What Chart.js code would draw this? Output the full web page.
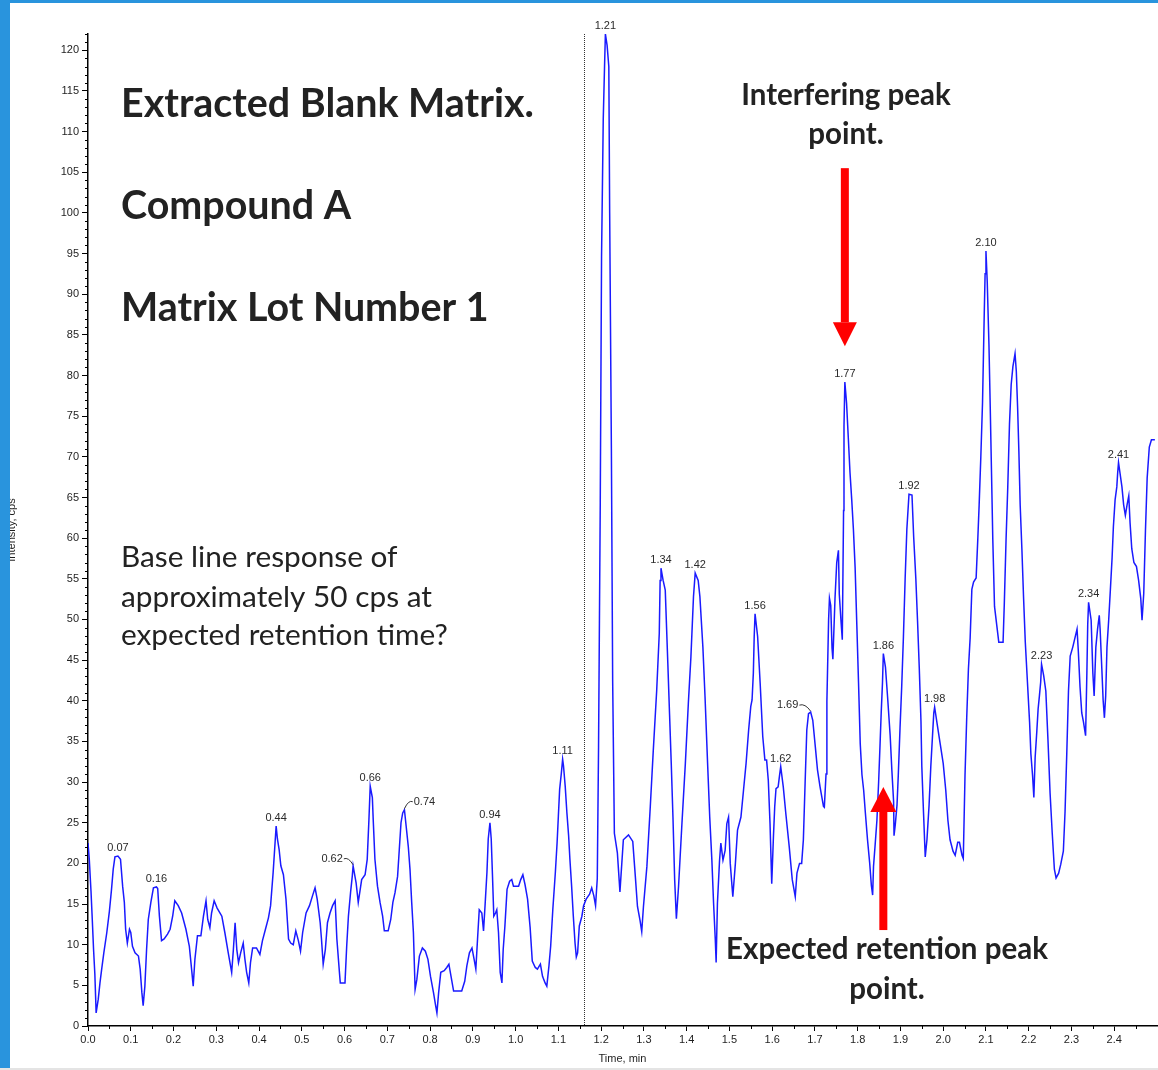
<!DOCTYPE html>
<html>
<head>
<meta charset="utf-8">
<title>Extracted Blank Matrix – Compound A</title>
<script src="https://cdn.jsdelivr.net/npm/chart.js@4.4.1/dist/chart.umd.min.js"></script>
<style>
  html, body { margin: 0; padding: 0; background: #ffffff; }
  canvas { display: block; }
</style>
</head>
<body>
<canvas id="xic" width="1158" height="1070"></canvas>
<script>
// Retention time (min) of each acquired point of the blank-matrix trace.
const retentionTimes = [
  0.000,0.003,0.007,0.010,0.013,0.016,0.018,0.019,0.024,0.028,
  0.032,0.037,0.044,0.050,0.055,0.059,0.063,0.070,0.076,0.081,
  0.085,0.088,0.092,0.097,0.100,0.104,0.110,0.118,0.122,0.126,
  0.129,0.133,0.137,0.141,0.147,0.153,0.160,0.163,0.167,0.172,
  0.178,0.186,0.192,0.198,0.203,0.211,0.219,0.229,0.237,0.243,
  0.246,0.250,0.256,0.264,0.270,0.276,0.280,0.285,0.289,0.295,
  0.302,0.313,0.320,0.328,0.336,0.340,0.344,0.348,0.352,0.357,
  0.363,0.367,0.371,0.376,0.380,0.385,0.394,0.402,0.408,0.415,
  0.422,0.427,0.433,0.440,0.443,0.447,0.451,0.457,0.463,0.469,
  0.474,0.480,0.486,0.492,0.497,0.502,0.510,0.518,0.525,0.531,
  0.536,0.543,0.546,0.550,0.555,0.560,0.566,0.572,0.578,0.582,
  0.588,0.590,0.601,0.605,0.609,0.614,0.618,0.620,0.627,0.632,
  0.636,0.640,0.648,0.653,0.657,0.660,0.665,0.667,0.671,0.677,
  0.683,0.689,0.693,0.702,0.708,0.713,0.718,0.724,0.728,0.732,
  0.736,0.740,0.744,0.749,0.753,0.757,0.761,0.765,0.769,0.775,
  0.782,0.789,0.795,0.801,0.808,0.813,0.816,0.820,0.825,0.833,
  0.839,0.844,0.849,0.855,0.874,0.881,0.886,0.892,0.898,0.903,
  0.907,0.911,0.915,0.921,0.925,0.929,0.933,0.936,0.940,0.943,
  0.946,0.949,0.953,0.956,0.960,0.964,0.968,0.971,0.975,0.980,
  0.986,0.991,0.995,1.007,1.012,1.017,1.022,1.028,1.034,1.039,
  1.046,1.051,1.058,1.063,1.069,1.073,1.078,1.082,1.087,1.093,
  1.097,1.100,1.103,1.107,1.110,1.112,1.116,1.120,1.124,1.127,
  1.131,1.135,1.139,1.142,1.145,1.149,1.155,1.159,1.165,1.173,
  1.178,1.183,1.187,1.191,1.194,1.198,1.201,1.205,1.208,1.210,
  1.214,1.218,1.220,1.224,1.227,1.231,1.238,1.244,1.252,1.264,
  1.274,1.280,1.285,1.291,1.295,1.299,1.307,1.315,1.322,1.330,
  1.336,1.338,1.340,1.345,1.350,1.356,1.360,1.364,1.368,1.372,
  1.376,1.381,1.389,1.397,1.404,1.410,1.416,1.420,1.427,1.431,
  1.438,1.443,1.449,1.454,1.459,1.463,1.467,1.469,1.472,1.477,
  1.480,1.485,1.490,1.494,1.498,1.502,1.508,1.514,1.519,1.527,
  1.533,1.539,1.545,1.550,1.553,1.556,1.558,1.560,1.566,1.572,
  1.578,1.583,1.587,1.591,1.595,1.599,1.603,1.606,1.609,1.614,
  1.617,1.620,1.626,1.632,1.640,1.647,1.654,1.658,1.664,1.669,
  1.673,1.677,1.681,1.685,1.690,1.695,1.701,1.706,1.712,1.716,
  1.720,1.722,1.726,1.728,1.732,1.734,1.737,1.740,1.742,1.747,
  1.751,1.755,1.757,1.761,1.764,1.767,1.768,1.770,1.774,1.778,
  1.782,1.786,1.790,1.794,1.798,1.802,1.806,1.810,1.814,1.818,
  1.823,1.828,1.832,1.835,1.837,1.841,1.845,1.849,1.852,1.855,
  1.858,1.860,1.865,1.870,1.876,1.880,1.884,1.885,1.888,1.892,
  1.895,1.899,1.903,1.907,1.911,1.915,1.920,1.927,1.931,1.936,
  1.940,1.944,1.948,1.950,1.954,1.958,1.962,1.967,1.971,1.975,
  1.978,1.980,1.986,1.993,2.000,2.006,2.011,2.016,2.023,2.028,
  2.034,2.038,2.044,2.047,2.051,2.055,2.059,2.063,2.067,2.071,
  2.077,2.081,2.084,2.088,2.092,2.096,2.098,2.100,2.103,2.107,
  2.110,2.113,2.116,2.120,2.130,2.140,2.143,2.147,2.151,2.155,
  2.159,2.163,2.168,2.171,2.174,2.177,2.180,2.184,2.188,2.192,
  2.197,2.202,2.205,2.209,2.212,2.215,2.219,2.222,2.225,2.228,
  2.230,2.235,2.240,2.245,2.250,2.255,2.260,2.264,2.270,2.275,
  2.281,2.285,2.289,2.293,2.297,2.303,2.308,2.313,2.316,2.320,
  2.324,2.328,2.333,2.336,2.338,2.340,2.346,2.350,2.353,2.357,
  2.361,2.365,2.367,2.371,2.374,2.377,2.380,2.383,2.387,2.391,
  2.395,2.398,2.402,2.406,2.408,2.410,2.418,2.422,2.426,2.430,
  2.434,2.437,2.441,2.446,2.452,2.457,2.462,2.465,2.469,2.473,
  2.477,2.482,2.487,2.495
];

// Intensity (cps) at each of the retention times above.
const intensityCps = [
  22.5,20.5,16.6,13.1,9.4,6.4,3.3,1.6,3.3,5.3,
  7.0,9.0,11.5,14.1,16.8,19.3,20.8,20.9,20.5,17.2,
  15.2,11.9,10.2,11.9,11.5,9.8,9.0,8.6,7.0,4.1,
  2.5,4.9,9.4,13.1,15.2,17.0,17.1,16.9,13.5,10.5,
  10.7,11.3,11.9,13.5,15.4,14.8,13.9,11.9,9.8,6.6,
  4.9,8.2,11.1,11.1,13.5,15.4,13.1,12.1,13.9,15.4,
  14.5,13.5,11.5,9.0,6.6,9.4,12.7,9.4,7.8,9.0,
  10.2,8.2,6.6,5.3,7.8,9.6,9.6,8.8,10.5,11.9,
  13.3,14.8,18.9,24.6,23.0,21.7,19.7,18.6,15.6,10.7,
  10.2,10.0,11.7,10.5,9.2,11.5,13.9,14.8,16.0,17.0,
  15.6,12.7,10.7,7.6,9.4,12.7,13.9,14.8,15.4,10.7,
  6.6,5.3,5.3,9.8,13.5,16.4,18.4,19.7,17.6,15.2,
  16.6,18.0,18.6,20.5,25.4,29.5,28.1,25.4,20.5,17.2,
  15.2,13.5,11.7,11.7,13.1,15.2,16.4,18.4,21.7,25.0,
  26.2,26.6,24.6,22.1,19.3,15.2,11.5,4.5,5.7,8.6,
  9.6,9.2,8.2,6.1,4.1,2.5,1.6,4.1,6.6,6.8,
  7.2,7.6,6.1,4.3,4.3,5.5,7.4,9.0,9.6,8.2,
  7.0,10.7,14.3,13.9,11.7,15.2,18.9,23.0,25.0,23.0,
  18.4,13.5,13.9,14.3,11.5,6.6,5.3,9.4,12.3,16.8,
  17.8,18.0,17.2,17.2,18.0,18.6,17.4,15.6,12.1,8.0,
  7.2,7.0,7.6,6.1,5.3,4.9,7.4,9.8,14.3,18.9,
  22.5,25.8,29.1,31.1,32.8,32.0,29.5,26.2,23.4,20.5,
  17.2,13.5,10.2,8.5,9.0,12.3,13.5,14.8,15.6,16.2,
  17.0,16.0,14.8,18.1,34.3,64.4,94.6,111.6,118.0,122.0,
  120.6,118.0,100.0,71.0,42.4,23.7,21.3,16.5,22.9,23.5,
  22.7,18.4,14.7,13.0,11.6,14.7,19.6,27.0,33.9,41.3,
  48.3,54.8,56.3,54.8,53.6,44.6,38.4,32.3,25.7,18.0,
  13.2,17.1,24.9,32.3,39.7,45.4,52.8,55.7,54.8,52.8,
  46.6,40.5,32.3,25.7,20.4,15.1,10.6,7.8,15.1,20.4,
  22.5,20.4,21.6,24.9,25.7,20.0,15.9,20.0,24.1,25.7,
  29.0,32.3,36.4,39.3,40.1,43.4,47.9,50.7,47.9,42.1,
  35.6,32.7,32.7,30.2,24.9,17.5,23.3,27.0,29.2,29.4,
  30.7,31.9,29.4,26.1,22.0,18.0,15.9,18.8,20.0,20.0,
  22.9,29.8,36.4,38.4,38.6,37.6,34.3,31.5,29.4,28.2,
  27.0,26.9,31.0,39.9,50.0,52.6,51.7,46.5,45.1,52.6,
  57.0,58.5,53.1,49.8,47.5,63.4,73.8,79.2,76.6,72.4,
  68.1,64.8,61.1,56.4,49.3,42.2,34.7,30.9,29.0,26.2,
  22.9,20.1,17.3,16.1,19.6,22.4,25.3,30.0,34.2,38.5,
  42.2,45.8,44.1,40.4,35.7,31.4,27.6,23.4,24.8,27.2,
  30.9,36.6,41.8,47.9,55.0,61.1,65.4,65.3,60.1,55.0,
  49.8,44.1,37.5,31.9,26.2,20.8,22.9,27.2,31.9,35.7,
  38.5,39.2,37.1,34.7,32.3,29.0,25.3,22.9,21.5,21.0,
  22.6,22.6,21.0,20.6,30.8,37.9,43.9,47.7,53.7,54.6,
  55.1,60.0,64.0,70.0,76.7,87.6,92.5,95.3,91.5,83.8,
  76.1,68.0,59.8,51.6,47.2,47.2,52.1,59.8,66.3,74.0,
  78.9,81.1,82.7,80.5,76.1,70.6,64.1,58.7,52.6,47.2,
  42.3,37.4,33.5,30.8,28.1,33.0,36.3,39.0,40.6,42.3,
  44.5,43.1,41.2,35.2,28.6,23.7,19.3,18.2,18.8,19.9,
  21.5,26.4,33.5,41.2,45.5,46.6,47.7,48.8,46.1,41.7,
  38.5,37.4,35.7,43.4,49.4,52.1,49.9,43.4,40.6,46.6,
  48.8,50.5,48.8,43.9,40.1,37.9,40.6,46.6,49.9,53.7,
  57.6,61.4,64.7,66.3,68.0,69.3,66.3,64.1,62.8,64.1,
  65.2,61.9,58.7,57.0,56.5,54.8,52.6,49.9,53.2,60.9,
  67.4,71.2,72.1,72.1
];

// Apex retention times that the peak finder annotated.
const peakTimes = [
  0.07, 0.16, 0.44, 0.62, 0.66, 0.74, 0.94, 1.11, 1.21, 1.34, 1.42,
  1.56, 1.62, 1.69, 1.77, 1.86, 1.92, 1.98, 2.10, 2.23, 2.34, 2.41
];

// Axis ticks.
const xTickValues = [0.0,0.1,0.2,0.3,0.4,0.5,0.6,0.7,0.8,0.9,1.0,1.1,1.2,1.3,1.4,1.5,1.6,1.7,1.8,1.9,2.0,2.1,2.2,2.3,2.4];
const yTickValues = [0,5,10,15,20,25,30,35,40,45,50,55,60,65,70,75,80,85,90,95,100,105,110,115,120];

// Annotation text.
const titleLines = ['Extracted Blank Matrix.', 'Compound A', 'Matrix Lot Number 1'];
const noteLines = ['Base line response of', 'approximately 50 cps at', 'expected retention time?'];
const interferingCaption = ['Interfering peak', 'point.'];
const expectedCaption = ['Expected retention peak', 'point.'];

// Retention time of the integration split marker and the two arrows (time, tip, tail in cps).
const splitMarkerTime = 1.16;
const interferingArrow = { time: 1.77, tip: 83.6, tail: 105.5 };
const expectedArrow = { time: 1.86, tip: 29.4, tail: 11.8 };

if (retentionTimes.length !== intensityCps.length) {
  console.error('trace arrays differ in length', retentionTimes.length, intensityCps.length);
}

// ---------- drawing ----------
const TRACE_BLUE = '#1a1aff';
const INK = '#1e1e1e';
const FRAME_BLUE = '#2994dd';
const ARROW_RED = '#ff0000';
const TICK_FONT = '"Liberation Sans", Arial, sans-serif';
const CAPTION_FONT = 'Lato, "Open Sans", sans-serif';

// Peak labels that sit beside their apex with a short leader line.
const leaderOffsets = { '0.62': [-21, -8], '0.74': [20, -9], '1.69': [-23, -8] };

function fitSize(ctx, text, weight, family, width) {
  ctx.font = `${weight} 100px ${family}`;
  return 100 * width / ctx.measureText(text).width;
}

function drawArrow(ctx, x, tipY, tailY, shaftW, headW, headL) {
  const dir = tailY > tipY ? 1 : -1; // +1: arrow points up
  const baseY = tipY + dir * headL;
  ctx.fillStyle = ARROW_RED;
  ctx.fillRect(x - shaftW / 2, Math.min(baseY, tailY), shaftW, Math.abs(tailY - baseY));
  ctx.beginPath();
  ctx.moveTo(x, tipY);
  ctx.lineTo(x - headW / 2, baseY);
  ctx.lineTo(x + headW / 2, baseY);
  ctx.closePath();
  ctx.fill();
}

const decorations = {
  id: 'decorations',
  beforeDatasetsDraw(chart) {
    const { ctx, chartArea, scales } = chart;
    const x = Math.round(scales.x.getPixelForValue(splitMarkerTime)) + 0.5;
    ctx.save();
    ctx.strokeStyle = '#333';
    ctx.lineWidth = 1;
    ctx.setLineDash([1, 1]);
    ctx.beginPath();
    ctx.moveTo(x, chartArea.top);
    ctx.lineTo(x, chartArea.bottom);
    ctx.stroke();
    ctx.restore();
  },
  afterDraw(chart) {
    const { ctx, chartArea, scales } = chart;
    const xs = scales.x, ys = scales.y;
    ctx.save();

    // minor ticks
    ctx.strokeStyle = '#000';
    ctx.lineWidth = 1;
    ctx.beginPath();
    for (let v = 1; v <= ys.max; v++) {
      if (v % 5 === 0) continue;
      const py = Math.round(ys.getPixelForValue(v)) + 0.5;
      ctx.moveTo(chartArea.left - 3, py);
      ctx.lineTo(chartArea.left, py);
    }
    for (let k = 0; k < 25; k++) {
      const px = Math.round(xs.getPixelForValue(k * 0.1 + 0.05)) + 0.5;
      ctx.moveTo(px, chartArea.bottom);
      ctx.lineTo(px, chartArea.bottom + 3);
    }
    ctx.stroke();

    // peak apex labels
    ctx.font = `11px ${TICK_FONT}`;
    ctx.fillStyle = '#2a2a2a';
    ctx.textAlign = 'center';
    ctx.textBaseline = 'alphabetic';
    peakTimes.forEach(t => {
      const i = retentionTimes.findIndex(r => Math.abs(r - t) < 1e-9);
      if (i < 0) return;
      const label = t.toFixed(2);
      const px = xs.getPixelForValue(retentionTimes[i]);
      const py = ys.getPixelForValue(intensityCps[i]);
      const off = leaderOffsets[label];
      if (off) {
        const lx = px + off[0], ly = py + off[1];
        ctx.fillText(label, lx, ly + 4);
        const w = ctx.measureText(label).width;
        const ex = off[0] < 0 ? lx + w / 2 + 1 : lx - w / 2 - 1;
        ctx.strokeStyle = '#333';
        ctx.beginPath();
        ctx.moveTo(ex, ly + 1);
        ctx.quadraticCurveTo((ex + px) / 2, ly - 1, px, py - 1);
        ctx.stroke();
      } else {
        ctx.fillText(label, px, py - 5);
      }
    });

    // arrows
    drawArrow(ctx, xs.getPixelForValue(interferingArrow.time), ys.getPixelForValue(interferingArrow.tip),
      ys.getPixelForValue(interferingArrow.tail), 8, 24, 24);
    drawArrow(ctx, xs.getPixelForValue(expectedArrow.time), ys.getPixelForValue(expectedArrow.tip),
      ys.getPixelForValue(expectedArrow.tail), 8, 26, 25);

    // headline block
    ctx.fillStyle = '#222';
    ctx.textAlign = 'left';
    const big = fitSize(ctx, titleLines[0], 'bold', CAPTION_FONT, 413);
    ctx.font = `bold ${big}px ${CAPTION_FONT}`;
    ctx.fillText(titleLines[0], 121, 117);
    ctx.fillText(titleLines[1], 121, 219);
    ctx.fillText(titleLines[2], 121, 321);

    const body = fitSize(ctx, noteLines[2], 'normal', CAPTION_FONT, 327);
    ctx.font = `normal ${body}px ${CAPTION_FONT}`;
    ctx.fillText(noteLines[0], 121, 567);
    ctx.fillText(noteLines[1], 121, 607);
    ctx.fillText(noteLines[2], 121, 645);

    const cap = fitSize(ctx, expectedCaption[0], 'bold', CAPTION_FONT, 322);
    ctx.font = `bold ${cap}px ${CAPTION_FONT}`;
    ctx.textAlign = 'center';
    ctx.fillText(interferingCaption[0], 846, 105);
    ctx.fillText(interferingCaption[1], 846, 144);
    ctx.fillText(expectedCaption[0], 887, 959);
    ctx.fillText(expectedCaption[1], 887, 999);

    // y axis title (mostly tucked under the frame strip)
    ctx.save();
    ctx.translate(12, 530);
    ctx.rotate(-Math.PI / 2);
    ctx.font = `11px ${TICK_FONT}`;
    ctx.fillStyle = INK;
    ctx.textAlign = 'center';
    ctx.textBaseline = 'middle';
    ctx.fillText('Intensity, cps', 0, 0);
    ctx.restore();

    // page frame
    ctx.fillStyle = FRAME_BLUE;
    ctx.fillRect(0, 0, 10, chart.height);
    ctx.fillRect(0, 0, chart.width, 3);
    ctx.fillStyle = '#e4e4e4';
    ctx.fillRect(0, chart.height - 2, chart.width, 2);
    ctx.restore();
  }
};

const points = retentionTimes.map((t, i) => ({ x: t, y: intensityCps[i] }));

new Chart(document.getElementById('xic'), {
  type: 'line',
  data: {
    datasets: [{
      data: points,
      borderColor: TRACE_BLUE,
      borderWidth: 1.5,
      pointRadius: 0,
      tension: 0,
      fill: false
    }]
  },
  options: {
    responsive: false,
    animation: false,
    devicePixelRatio: 1,
    parsing: false,
    layout: { padding: { top: 34, right: 1, left: 0, bottom: 0 } },
    plugins: { legend: { display: false }, tooltip: { enabled: false } },
    scales: {
      x: {
        type: 'linear',
        min: 0,
        max: 2.5,
        afterBuildTicks: s => { s.ticks = xTickValues.map(v => ({ value: v })); },
        afterFit: s => { s.height = 44; },
        ticks: {
          autoSkip: false,
          maxRotation: 0,
          padding: 2,
          color: INK,
          font: { family: TICK_FONT, size: 11 },
          callback: v => Number(v).toFixed(1)
        },
        grid: { drawOnChartArea: false, drawTicks: true, tickLength: 5, color: '#000' },
        border: { display: true, color: '#000', width: 1.5 },
        title: {
          display: true,
          text: 'Time, min',
          color: INK,
          font: { family: TICK_FONT, size: 11 },
          padding: { top: 0, bottom: 4 }
        }
      },
      y: {
        type: 'linear',
        min: 0,
        max: 122,
        afterBuildTicks: s => { s.ticks = yTickValues.map(v => ({ value: v })); },
        afterFit: s => { s.width = 88; },
        ticks: {
          autoSkip: false,
          padding: 3,
          color: INK,
          font: { family: TICK_FONT, size: 11 },
          callback: v => String(v)
        },
        grid: { drawOnChartArea: false, drawTicks: true, tickLength: 6, color: '#000' },
        border: { display: true, color: '#000', width: 1.5 }
      }
    }
  },
  plugins: [decorations]
});
</script>
</body>
</html>
